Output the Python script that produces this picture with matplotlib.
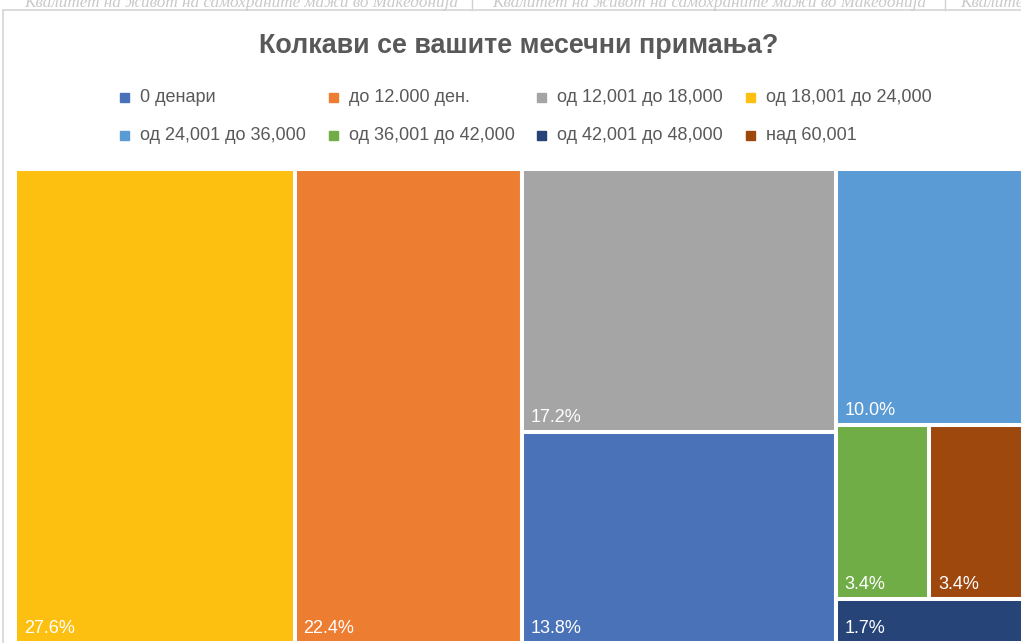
# Treemap: Колкави се вашите месечни примања?
import matplotlib
matplotlib.use("Agg")
import matplotlib.pyplot as plt
from matplotlib.patches import Rectangle

plt.rcParams["font.family"] = ["Liberation Sans", "DejaVu Sans"]

# ---- data ----
categories = ["0 денари", "до 12.000 ден.", "од 12,001 до 18,000", "од 18,001 до 24,000",
              "од 24,001 до 36,000", "од 36,001 до 42,000", "од 42,001 до 48,000", "над 60,001"]
shares = [13.8, 22.4, 17.2, 27.6, 10.0, 3.4, 1.7, 3.4]
colors = ["#4A72B8", "#ED7D31", "#A5A5A5", "#FDBF10",
          "#5B9BD5", "#70AD47", "#264478", "#9E480E"]
title = "Колкави се вашите месечни примања?"
header = "Квалитет на живот на самохраните мажи во Македонија"

# treemap grouping (columns -> rows -> items), as Excel laid it out
layout = [[[3]], [[1]], [[2], [0]], [[4], [5, 7], [6]]]

W, H = 1021, 643
fig = plt.figure(figsize=(W / 100, H / 100), dpi=100)
fx = lambda px: px / W
fy = lambda py: 1 - py / H

# ---- header strip / sheet background ----
for x0 in (24, 492, 960):
    fig.text(fx(x0), fy(7), header, fontsize=12.3, color="#c9c9c9", style="italic",
             family=["Liberation Serif", "DejaVu Serif"], va="baseline")
for xs in (472, 945):
    fig.add_artist(plt.Line2D([fx(xs), fx(xs)], [fy(0), fy(10)], color="#d0d0d0", lw=1))
fig.add_artist(plt.Line2D([fx(3), fx(W)], [fy(10), fy(10)], color="#d6d6d6", lw=1.2))
fig.add_artist(plt.Line2D([fx(3), fx(3)], [fy(10), fy(H)], color="#d6d6d6", lw=1.2))

# ---- title ----
fig.text(fx(519), fy(46), title, ha="center", va="center", fontsize=19.4,
         fontweight="bold", color="#595959")

# ---- legend (manual, 2 rows x 4 cols) ----
for i, (lab, col) in enumerate(zip(categories, colors)):
    r, c = divmod(i, 4)
    xm = 120 + c * 208.5
    ym = 97 + r * 38
    fig.add_artist(Rectangle((fx(xm), fy(ym + 4.5)), 9 / W, 9 / H, color=col,
                             transform=fig.transFigure))
    fig.text(fx(xm + 20), fy(ym), lab, va="center", ha="left", fontsize=13, color="#595959")

# ---- treemap ----
ax = fig.add_axes([fx(15), fy(643), 1008 / W, 474 / H])
ax.set_xlim(0, 1); ax.set_ylim(1, 0); ax.axis("off")
total = sum(shares)
x = 0.0
for column in layout:
    csum = sum(shares[k] for row in column for k in row)
    cw = csum / total
    y = 0.0
    for row in column:
        rsum = sum(shares[k] for k in row)
        rh = rsum / csum
        xx = x
        for k in row:
            iw = cw * shares[k] / rsum
            ax.add_patch(Rectangle((xx, y), iw, rh, facecolor=colors[k],
                                   edgecolor="white", lw=2.9, clip_on=False))
            ax.annotate(f"{shares[k]:.1f}%", (xx, y + rh), xytext=(9, 10),
                        textcoords="offset pixels", color="white", fontsize=13,
                        va="baseline", ha="left")
            xx += iw
        y += rh
    x += cw

fig.savefig("out.png", dpi=100)
